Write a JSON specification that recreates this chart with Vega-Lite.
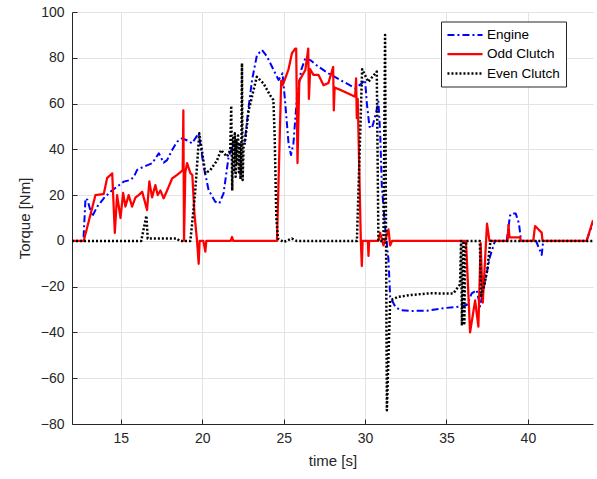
{
  "$schema": "https://vega.github.io/schema/vega-lite/v6.json",
  "autosize": "none",
  "width": 521,
  "height": 412,
  "padding": {"left": 72, "top": 12, "right": 4, "bottom": 55},
  "background": "white",
  "config": {
    "view": {"stroke": null},
    "font": "Liberation Sans",
    "axis": {
      "labelFont": "Liberation Sans",
      "titleFont": "Liberation Sans",
      "labelFontSize": 14,
      "titleFontSize": 15,
      "titleFontWeight": "normal",
      "labelColor": "#262626",
      "titleColor": "#262626",
      "domainColor": "#262626",
      "domainWidth": 1,
      "tickColor": "#262626",
      "tickSize": -5,
      "gridColor": "#e3e3e3",
      "gridWidth": 1
    },
    "legend": {
      "orient": "none",
      "legendX": 369,
      "legendY": 9.5,
      "direction": "vertical",
      "symbolType": "M-2.7,0H2.7",
      "symbolSize": 169,
      "symbolOffset": 10,
      "symbolStrokeWidth": 2,
      "labelFont": "Liberation Sans",
      "labelFontSize": 13.5,
      "labelColor": "#000000",
      "labelOffset": 14,
      "padding": 6,
      "rowPadding": 4.5,
      "strokeColor": "#262626",
      "fillColor": "white"
    }
  },
  "data": {
    "values": [
      {"series": "Engine", "time": 12, "torque": 0},
      {"series": "Engine", "time": 12.7, "torque": 0},
      {"series": "Engine", "time": 12.83, "torque": 18.6},
      {"series": "Engine", "time": 12.95, "torque": 17.9},
      {"series": "Engine", "time": 13.24, "torque": 10.6},
      {"series": "Engine", "time": 13.55, "torque": 15},
      {"series": "Engine", "time": 13.95, "torque": 18.6},
      {"series": "Engine", "time": 14.36, "torque": 21.5},
      {"series": "Engine", "time": 14.77, "torque": 23.7},
      {"series": "Engine", "time": 15.18, "torque": 25.9},
      {"series": "Engine", "time": 15.59, "torque": 26.6},
      {"series": "Engine", "time": 15.8, "torque": 28},
      {"series": "Engine", "time": 16.0, "torque": 31},
      {"series": "Engine", "time": 16.4, "torque": 32.4},
      {"series": "Engine", "time": 16.92, "torque": 33.9},
      {"series": "Engine", "time": 17.33, "torque": 38.3},
      {"series": "Engine", "time": 17.63, "torque": 34.2},
      {"series": "Engine", "time": 17.84, "torque": 35.3},
      {"series": "Engine", "time": 18.15, "torque": 39.7},
      {"series": "Engine", "time": 18.45, "torque": 43.3},
      {"series": "Engine", "time": 18.76, "torque": 44.8},
      {"series": "Engine", "time": 19.17, "torque": 43.6},
      {"series": "Engine", "time": 19.37, "torque": 42.6},
      {"series": "Engine", "time": 19.78, "torque": 47},
      {"series": "Engine", "time": 20.09, "torque": 32.4},
      {"series": "Engine", "time": 20.39, "torque": 22.2},
      {"series": "Engine", "time": 20.8, "torque": 17.1},
      {"series": "Engine", "time": 21.05, "torque": 16.4},
      {"series": "Engine", "time": 21.31, "torque": 20.8},
      {"series": "Engine", "time": 21.62, "torque": 36.8},
      {"series": "Engine", "time": 21.93, "torque": 42.6},
      {"series": "Engine", "time": 22.34, "torque": 41.9},
      {"series": "Engine", "time": 22.6, "torque": 42.6},
      {"series": "Engine", "time": 22.85, "torque": 58.6},
      {"series": "Engine", "time": 23.06, "torque": 70.3},
      {"series": "Engine", "time": 23.36, "torque": 81.2},
      {"series": "Engine", "time": 23.67, "torque": 83.4},
      {"series": "Engine", "time": 23.98, "torque": 80.5},
      {"series": "Engine", "time": 24.38, "torque": 74.7},
      {"series": "Engine", "time": 24.69, "torque": 70.3},
      {"series": "Engine", "time": 24.93, "torque": 73.2},
      {"series": "Engine", "time": 25.1, "torque": 60.1},
      {"series": "Engine", "time": 25.3, "torque": 42.6},
      {"series": "Engine", "time": 25.45, "torque": 37.5},
      {"series": "Engine", "time": 25.6, "torque": 42.6},
      {"series": "Engine", "time": 25.82, "torque": 63},
      {"series": "Engine", "time": 26.08, "torque": 74.7},
      {"series": "Engine", "time": 26.33, "torque": 79.8},
      {"series": "Engine", "time": 26.63, "torque": 79},
      {"series": "Engine", "time": 27.14, "torque": 76.1},
      {"series": "Engine", "time": 27.75, "torque": 73.2},
      {"series": "Engine", "time": 28.68, "torque": 69.5},
      {"series": "Engine", "time": 29.4, "torque": 66.7},
      {"series": "Engine", "time": 29.8, "torque": 68.8},
      {"series": "Engine", "time": 30.0, "torque": 70.3},
      {"series": "Engine", "time": 30.11, "torque": 60.1},
      {"series": "Engine", "time": 30.27, "torque": 49.9},
      {"series": "Engine", "time": 30.42, "torque": 49.2},
      {"series": "Engine", "time": 30.62, "torque": 54.3},
      {"series": "Engine", "time": 30.82, "torque": 60.8},
      {"series": "Engine", "time": 30.93, "torque": 47},
      {"series": "Engine", "time": 31.03, "torque": 23.7},
      {"series": "Engine", "time": 31.23, "torque": 6.2},
      {"series": "Engine", "time": 31.44, "torque": -8.3},
      {"series": "Engine", "time": 31.54, "torque": -24.4},
      {"series": "Engine", "time": 31.85, "torque": -28.7},
      {"series": "Engine", "time": 32.15, "torque": -30.2},
      {"series": "Engine", "time": 32.77, "torque": -30.6},
      {"series": "Engine", "time": 33.79, "torque": -30.5},
      {"series": "Engine", "time": 34.8, "torque": -29.4},
      {"series": "Engine", "time": 35.83, "torque": -28.7},
      {"series": "Engine", "time": 36.25, "torque": -28},
      {"series": "Engine", "time": 36.55, "torque": -22.9},
      {"series": "Engine", "time": 36.86, "torque": -21.5},
      {"series": "Engine", "time": 37.06, "torque": -28.7},
      {"series": "Engine", "time": 37.26, "torque": -21.5},
      {"series": "Engine", "time": 37.47, "torque": -14.2},
      {"series": "Engine", "time": 37.67, "torque": -7},
      {"series": "Engine", "time": 37.98, "torque": 0},
      {"series": "Engine", "time": 38.7, "torque": 0},
      {"series": "Engine", "time": 38.9, "torque": 11},
      {"series": "Engine", "time": 39.0, "torque": 12},
      {"series": "Engine", "time": 39.25, "torque": 12},
      {"series": "Engine", "time": 39.45, "torque": 7.7},
      {"series": "Engine", "time": 39.58, "torque": 0},
      {"series": "Engine", "time": 40.5, "torque": 0},
      {"series": "Engine", "time": 40.85, "torque": -6.1},
      {"series": "Engine", "time": 40.94, "torque": 0},
      {"series": "Engine", "time": 43.6, "torque": 0},
      {"series": "Engine", "time": 44, "torque": 8},

      {"series": "Odd Clutch", "time": 12, "torque": 0},
      {"series": "Odd Clutch", "time": 12.72, "torque": 0},
      {"series": "Odd Clutch", "time": 13.44, "torque": 20},
      {"series": "Odd Clutch", "time": 13.95, "torque": 20.5},
      {"series": "Odd Clutch", "time": 14.16, "torque": 27.5},
      {"series": "Odd Clutch", "time": 14.47, "torque": 29.5},
      {"series": "Odd Clutch", "time": 14.63, "torque": 3.5},
      {"series": "Odd Clutch", "time": 14.77, "torque": 20},
      {"series": "Odd Clutch", "time": 14.98, "torque": 10},
      {"series": "Odd Clutch", "time": 15.14, "torque": 21},
      {"series": "Odd Clutch", "time": 15.28, "torque": 15},
      {"series": "Odd Clutch", "time": 15.48, "torque": 20},
      {"series": "Odd Clutch", "time": 15.69, "torque": 15},
      {"series": "Odd Clutch", "time": 15.9, "torque": 19},
      {"series": "Odd Clutch", "time": 16.1, "torque": 20},
      {"series": "Odd Clutch", "time": 16.31, "torque": 21.5},
      {"series": "Odd Clutch", "time": 16.61, "torque": 13.5},
      {"series": "Odd Clutch", "time": 16.75, "torque": 26},
      {"series": "Odd Clutch", "time": 16.92, "torque": 19},
      {"series": "Odd Clutch", "time": 17.12, "torque": 24.4},
      {"series": "Odd Clutch", "time": 17.26, "torque": 20},
      {"series": "Odd Clutch", "time": 17.43, "torque": 22},
      {"series": "Odd Clutch", "time": 17.63, "torque": 18.6},
      {"series": "Odd Clutch", "time": 17.84, "torque": 22},
      {"series": "Odd Clutch", "time": 18.15, "torque": 27.3},
      {"series": "Odd Clutch", "time": 18.45, "torque": 28.8},
      {"series": "Odd Clutch", "time": 18.66, "torque": 30},
      {"series": "Odd Clutch", "time": 18.8, "torque": 31},
      {"series": "Odd Clutch", "time": 18.84, "torque": 57},
      {"series": "Odd Clutch", "time": 18.88, "torque": 0},
      {"series": "Odd Clutch", "time": 18.96, "torque": 30},
      {"series": "Odd Clutch", "time": 19.07, "torque": 34},
      {"series": "Odd Clutch", "time": 19.27, "torque": 29.6},
      {"series": "Odd Clutch", "time": 19.39, "torque": 28.8},
      {"series": "Odd Clutch", "time": 19.52, "torque": 12},
      {"series": "Odd Clutch", "time": 19.68, "torque": 0},
      {"series": "Odd Clutch", "time": 19.78, "torque": -10},
      {"series": "Odd Clutch", "time": 19.84, "torque": 0},
      {"series": "Odd Clutch", "time": 20.07, "torque": 0},
      {"series": "Odd Clutch", "time": 20.19, "torque": -4.7},
      {"series": "Odd Clutch", "time": 20.25, "torque": 0},
      {"series": "Odd Clutch", "time": 21.75, "torque": 0},
      {"series": "Odd Clutch", "time": 21.83, "torque": 1.7},
      {"series": "Odd Clutch", "time": 21.9, "torque": 0},
      {"series": "Odd Clutch", "time": 24.59, "torque": 0},
      {"series": "Odd Clutch", "time": 24.85, "torque": 70},
      {"series": "Odd Clutch", "time": 24.93, "torque": 68},
      {"series": "Odd Clutch", "time": 25.1, "torque": 71},
      {"series": "Odd Clutch", "time": 25.3, "torque": 75},
      {"series": "Odd Clutch", "time": 25.51, "torque": 82},
      {"series": "Odd Clutch", "time": 25.71, "torque": 84},
      {"series": "Odd Clutch", "time": 25.77, "torque": 84},
      {"series": "Odd Clutch", "time": 25.85, "torque": 34},
      {"series": "Odd Clutch", "time": 25.96, "torque": 70},
      {"series": "Odd Clutch", "time": 26.12, "torque": 72},
      {"series": "Odd Clutch", "time": 26.33, "torque": 74.6},
      {"series": "Odd Clutch", "time": 26.51, "torque": 84},
      {"series": "Odd Clutch", "time": 26.55, "torque": 62},
      {"series": "Odd Clutch", "time": 26.63, "torque": 75},
      {"series": "Odd Clutch", "time": 26.83, "torque": 72.5},
      {"series": "Odd Clutch", "time": 27.14, "torque": 72.5},
      {"series": "Odd Clutch", "time": 27.45, "torque": 68},
      {"series": "Odd Clutch", "time": 27.75, "torque": 69},
      {"series": "Odd Clutch", "time": 28.04, "torque": 76},
      {"series": "Odd Clutch", "time": 28.08, "torque": 57},
      {"series": "Odd Clutch", "time": 28.13, "torque": 67},
      {"series": "Odd Clutch", "time": 28.47, "torque": 66},
      {"series": "Odd Clutch", "time": 29.39, "torque": 63},
      {"series": "Odd Clutch", "time": 29.45, "torque": 71},
      {"series": "Odd Clutch", "time": 29.49, "torque": 53.6},
      {"series": "Odd Clutch", "time": 29.55, "torque": 62},
      {"series": "Odd Clutch", "time": 29.74, "torque": 0},
      {"series": "Odd Clutch", "time": 29.8, "torque": -11},
      {"series": "Odd Clutch", "time": 29.85, "torque": 0},
      {"series": "Odd Clutch", "time": 30.17, "torque": 0},
      {"series": "Odd Clutch", "time": 30.21, "torque": -6.6},
      {"series": "Odd Clutch", "time": 30.25, "torque": 0},
      {"series": "Odd Clutch", "time": 30.8, "torque": 0},
      {"series": "Odd Clutch", "time": 30.93, "torque": 3.5},
      {"series": "Odd Clutch", "time": 31.13, "torque": -2},
      {"series": "Odd Clutch", "time": 31.44, "torque": 5},
      {"series": "Odd Clutch", "time": 31.54, "torque": -2},
      {"series": "Odd Clutch", "time": 31.66, "torque": 0},
      {"series": "Odd Clutch", "time": 36.2, "torque": 0},
      {"series": "Odd Clutch", "time": 36.45, "torque": -40},
      {"series": "Odd Clutch", "time": 36.76, "torque": -26},
      {"series": "Odd Clutch", "time": 36.96, "torque": -37.5},
      {"series": "Odd Clutch", "time": 37.1, "torque": -1},
      {"series": "Odd Clutch", "time": 37.23, "torque": -27},
      {"series": "Odd Clutch", "time": 37.49, "torque": 7.5},
      {"series": "Odd Clutch", "time": 37.64, "torque": 0},
      {"series": "Odd Clutch", "time": 38.75, "torque": 0},
      {"series": "Odd Clutch", "time": 38.81, "torque": 7},
      {"series": "Odd Clutch", "time": 38.87, "torque": 1.5},
      {"series": "Odd Clutch", "time": 39.52, "torque": 1.5},
      {"series": "Odd Clutch", "time": 39.58, "torque": 0},
      {"series": "Odd Clutch", "time": 40.33, "torque": 0},
      {"series": "Odd Clutch", "time": 40.44, "torque": 6.5},
      {"series": "Odd Clutch", "time": 40.85, "torque": 3.6},
      {"series": "Odd Clutch", "time": 40.9, "torque": 0},
      {"series": "Odd Clutch", "time": 43.61, "torque": 0},
      {"series": "Odd Clutch", "time": 44, "torque": 9},

      {"series": "Even Clutch", "time": 12, "torque": 0},
      {"series": "Even Clutch", "time": 16.25, "torque": 0},
      {"series": "Even Clutch", "time": 16.57, "torque": 11},
      {"series": "Even Clutch", "time": 16.65, "torque": 1},
      {"series": "Even Clutch", "time": 18.45, "torque": 1},
      {"series": "Even Clutch", "time": 18.6, "torque": 0},
      {"series": "Even Clutch", "time": 19.27, "torque": 0},
      {"series": "Even Clutch", "time": 19.55, "torque": 20},
      {"series": "Even Clutch", "time": 19.82, "torque": 47},
      {"series": "Even Clutch", "time": 20.19, "torque": 29.5},
      {"series": "Even Clutch", "time": 20.5, "torque": 31},
      {"series": "Even Clutch", "time": 20.9, "torque": 35},
      {"series": "Even Clutch", "time": 21.15, "torque": 39.7},
      {"series": "Even Clutch", "time": 21.52, "torque": 36.8},
      {"series": "Even Clutch", "time": 21.62, "torque": 38},
      {"series": "Even Clutch", "time": 21.72, "torque": 40},
      {"series": "Even Clutch", "time": 21.78, "torque": 59},
      {"series": "Even Clutch", "time": 21.84, "torque": 22},
      {"series": "Even Clutch", "time": 21.9, "torque": 45},
      {"series": "Even Clutch", "time": 21.95, "torque": 30},
      {"series": "Even Clutch", "time": 22.0, "torque": 47},
      {"series": "Even Clutch", "time": 22.05, "torque": 28},
      {"series": "Even Clutch", "time": 22.1, "torque": 44},
      {"series": "Even Clutch", "time": 22.15, "torque": 33},
      {"series": "Even Clutch", "time": 22.2, "torque": 46},
      {"series": "Even Clutch", "time": 22.25, "torque": 30},
      {"series": "Even Clutch", "time": 22.3, "torque": 43},
      {"series": "Even Clutch", "time": 22.35, "torque": 27},
      {"series": "Even Clutch", "time": 22.41, "torque": 44},
      {"series": "Even Clutch", "time": 22.44, "torque": 77.6},
      {"series": "Even Clutch", "time": 22.48, "torque": 26.6},
      {"series": "Even Clutch", "time": 22.54, "torque": 41},
      {"series": "Even Clutch", "time": 22.62, "torque": 43},
      {"series": "Even Clutch", "time": 22.85, "torque": 57},
      {"series": "Even Clutch", "time": 23.35, "torque": 71.7},
      {"series": "Even Clutch", "time": 23.76, "torque": 68.8},
      {"series": "Even Clutch", "time": 24.16, "torque": 63.7},
      {"series": "Even Clutch", "time": 24.37, "torque": 61.5},
      {"series": "Even Clutch", "time": 24.45, "torque": 45},
      {"series": "Even Clutch", "time": 24.55, "torque": 10},
      {"series": "Even Clutch", "time": 24.65, "torque": 1},
      {"series": "Even Clutch", "time": 25.0, "torque": -0.5},
      {"series": "Even Clutch", "time": 25.5, "torque": 1},
      {"series": "Even Clutch", "time": 25.8, "torque": 0},
      {"series": "Even Clutch", "time": 29.5, "torque": 0},
      {"series": "Even Clutch", "time": 29.82, "torque": 75},
      {"series": "Even Clutch", "time": 30.2, "torque": 69.5},
      {"series": "Even Clutch", "time": 30.72, "torque": 74},
      {"series": "Even Clutch", "time": 30.82, "torque": 0},
      {"series": "Even Clutch", "time": 31.13, "torque": 0},
      {"series": "Even Clutch", "time": 31.23, "torque": 90},
      {"series": "Even Clutch", "time": 31.34, "torque": -74},
      {"series": "Even Clutch", "time": 31.54, "torque": -26},
      {"series": "Even Clutch", "time": 32.05, "torque": -24.4},
      {"series": "Even Clutch", "time": 32.87, "torque": -23.6},
      {"series": "Even Clutch", "time": 33.99, "torque": -22.9},
      {"series": "Even Clutch", "time": 35.42, "torque": -23},
      {"series": "Even Clutch", "time": 35.83, "torque": -19},
      {"series": "Even Clutch", "time": 35.9, "torque": 0},
      {"series": "Even Clutch", "time": 35.95, "torque": -37},
      {"series": "Even Clutch", "time": 36.0, "torque": -15},
      {"series": "Even Clutch", "time": 36.05, "torque": 0},
      {"series": "Even Clutch", "time": 36.1, "torque": -36},
      {"series": "Even Clutch", "time": 36.15, "torque": -5},
      {"series": "Even Clutch", "time": 36.22, "torque": 0},
      {"series": "Even Clutch", "time": 37.05, "torque": 0},
      {"series": "Even Clutch", "time": 37.12, "torque": -24},
      {"series": "Even Clutch", "time": 37.3, "torque": -20},
      {"series": "Even Clutch", "time": 37.5, "torque": -13},
      {"series": "Even Clutch", "time": 37.7, "torque": 0},
      {"series": "Even Clutch", "time": 44, "torque": 0}
    ]
  },
  "mark": {"type": "line", "clip": true, "strokeCap": "butt", "strokeJoin": "round"},
  "encoding": {
    "x": {
      "field": "time",
      "type": "quantitative",
      "scale": {"domain": [12, 44], "nice": false, "zero": false},
      "axis": {"title": "time [s]", "values": [15, 20, 25, 30, 35, 40], "labelPadding": 12, "titlePadding": 8, "grid": true}
    },
    "y": {
      "field": "torque",
      "type": "quantitative",
      "scale": {"domain": [-80, 100], "nice": false, "zero": false},
      "axis": {"title": "Torque [Nm]", "values": [-80, -60, -40, -20, 0, 20, 40, 60, 80, 100], "labelPadding": 13, "titlePadding": 8, "grid": true}
    },
    "color": {
      "field": "series",
      "type": "nominal",
      "scale": {"domain": ["Engine", "Odd Clutch", "Even Clutch"], "range": ["#0000ff", "#ff0000", "#000000"]},
      "legend": {"title": null}
    },
    "strokeDash": {
      "field": "series",
      "type": "nominal",
      "scale": {"domain": ["Engine", "Odd Clutch", "Even Clutch"], "range": [[7, 3, 2, 3], [1, 0], [2, 2]]},
      "legend": {"title": null}
    },
    "strokeWidth": {
      "field": "series",
      "type": "nominal",
      "scale": {"domain": ["Engine", "Odd Clutch", "Even Clutch"], "range": [2, 2.5, 2]},
      "legend": null
    },
    "order": {"field": "time", "type": "quantitative"}
  }
}
